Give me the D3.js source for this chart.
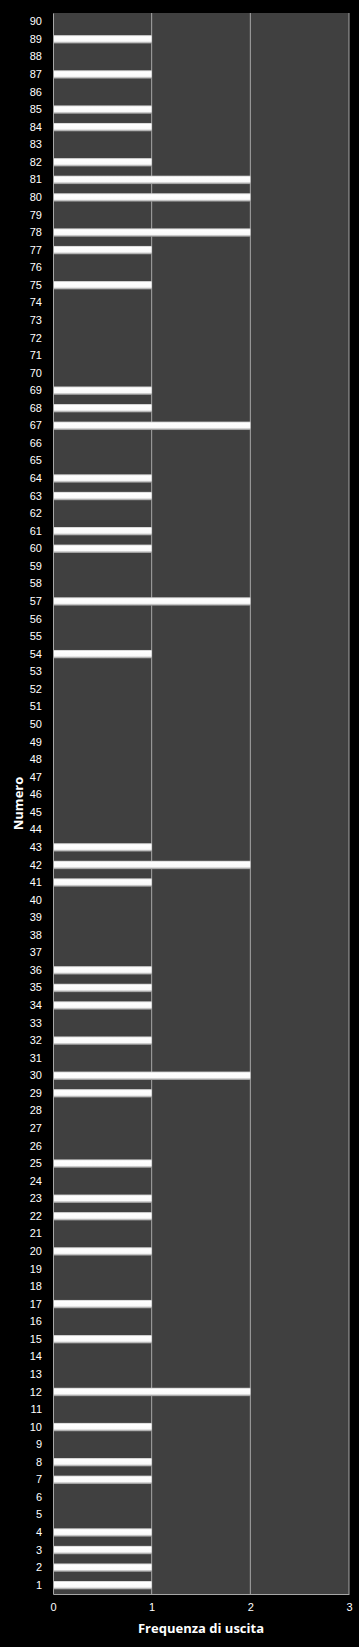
<!DOCTYPE html>
<html>
<head>
<meta charset="utf-8">
<script src="https://cdn.jsdelivr.net/npm/d3@7"></script>
<style>
  body { margin: 0; background: #000; }
  svg { display: block; }
</style>
</head>
<body>
<div id="chart"></div>
<script>
// numbers 1..90 and how many times each came out
var numbers = d3.range(1, 91);
var hits = {
  1: 1, 2: 1, 3: 1, 4: 1, 7: 1, 8: 1, 10: 1, 12: 2, 15: 1, 17: 1,
  20: 1, 22: 1, 23: 1, 25: 1, 29: 1, 30: 2, 32: 1, 34: 1, 35: 1, 36: 1,
  41: 1, 42: 2, 43: 1, 54: 1, 57: 2, 60: 1, 61: 1, 63: 1, 64: 1, 67: 2,
  68: 1, 69: 1, 75: 1, 77: 1, 78: 2, 80: 2, 81: 2, 82: 1, 84: 1, 85: 1,
  87: 1, 89: 1
};
var xTicks = [0, 1, 2, 3];

var data = numbers.map(function(n) { return { num: n, freq: hits[n] || 0 }; });

var svgWidth = 359;
var svgHeight = 1647;
var margin = { top: 13, bottom: 53, right: 10, left: 53 };
var width = svgWidth - margin.left - margin.right;
var height = svgHeight - margin.top - margin.bottom;

var svg = d3.select("#chart")
    .append("svg")
    .attr("width", svgWidth)
    .attr("height", svgHeight)
    .style("font-family", "'Open Sans', sans-serif");

svg.append("rect")
    .attr("width", svgWidth)
    .attr("height", svgHeight)
    .attr("fill", "#000");

var defs = svg.append("defs");
var grad = defs.append("linearGradient")
    .attr("id", "barGrad")
    .attr("x1", 0).attr("y1", 0).attr("x2", 0).attr("y2", 1);
grad.append("stop").attr("offset", "0%").attr("stop-color", "#c8c8c8");
grad.append("stop").attr("offset", "18%").attr("stop-color", "#ffffff");
grad.append("stop").attr("offset", "72%").attr("stop-color", "#fafafa");
grad.append("stop").attr("offset", "100%").attr("stop-color", "#8a8a8a");

var chart = svg.append("g")
    .attr("transform", `translate(${margin.left}, ${margin.top})`);

var x = d3.scaleLinear().domain([0, 3]).range([0, width]);
var y = d3.scaleBand()
    .domain(numbers.slice().reverse())
    .range([0, height])
    .paddingInner(0.52)
    .paddingOuter(0.26);

// plot area
chart.append("rect")
    .attr("width", width)
    .attr("height", height)
    .attr("fill", "#404040");

// vertical gridlines
chart.selectAll(".grid")
    .data(xTicks.slice(1))
    .enter()
    .append("line")
    .attr("x1", d => x(d))
    .attr("x2", d => x(d))
    .attr("y1", 0)
    .attr("y2", height)
    .attr("stroke", "#a6a6a6")
    .attr("stroke-width", 1);

// bars
chart.selectAll(".bar")
    .data(data.filter(d => d.freq > 0))
    .enter()
    .append("rect")
    .attr("x", 0)
    .attr("y", d => y(d.num))
    .attr("width", d => x(d.freq))
    .attr("height", y.bandwidth())
    .attr("fill", "url(#barGrad)");

// axes
var yAxis = d3.axisLeft(y).tickSize(0).tickPadding(11);
var yg = chart.append("g").call(yAxis);
yg.select(".domain").attr("stroke", "#a6a6a6");
yg.selectAll("text").attr("fill", "#fff").style("font-size", "11px");

var xAxis = d3.axisBottom(x).tickValues(xTicks).tickFormat(d3.format("d")).tickSize(0).tickPadding(9);
var xg = chart.append("g")
    .attr("transform", `translate(0, ${height})`)
    .call(xAxis);
xg.select(".domain").attr("stroke", "#a6a6a6");
xg.selectAll("text").attr("fill", "#fff").style("font-size", "11px");

// axis titles
svg.append("text")
    .attr("x", margin.left + width / 2)
    .attr("y", 1633)
    .attr("text-anchor", "middle")
    .attr("fill", "#fff")
    .style("font-size", "13px")
    .style("font-weight", "bold")
    .text("Frequenza di uscita");

svg.append("text")
    .attr("transform", `translate(23, ${margin.top + height / 2}) rotate(-90)`)
    .attr("text-anchor", "middle")
    .attr("fill", "#fff")
    .style("font-size", "13px")
    .style("font-weight", "bold")
    .text("Numero");
</script>
</body>
</html>
